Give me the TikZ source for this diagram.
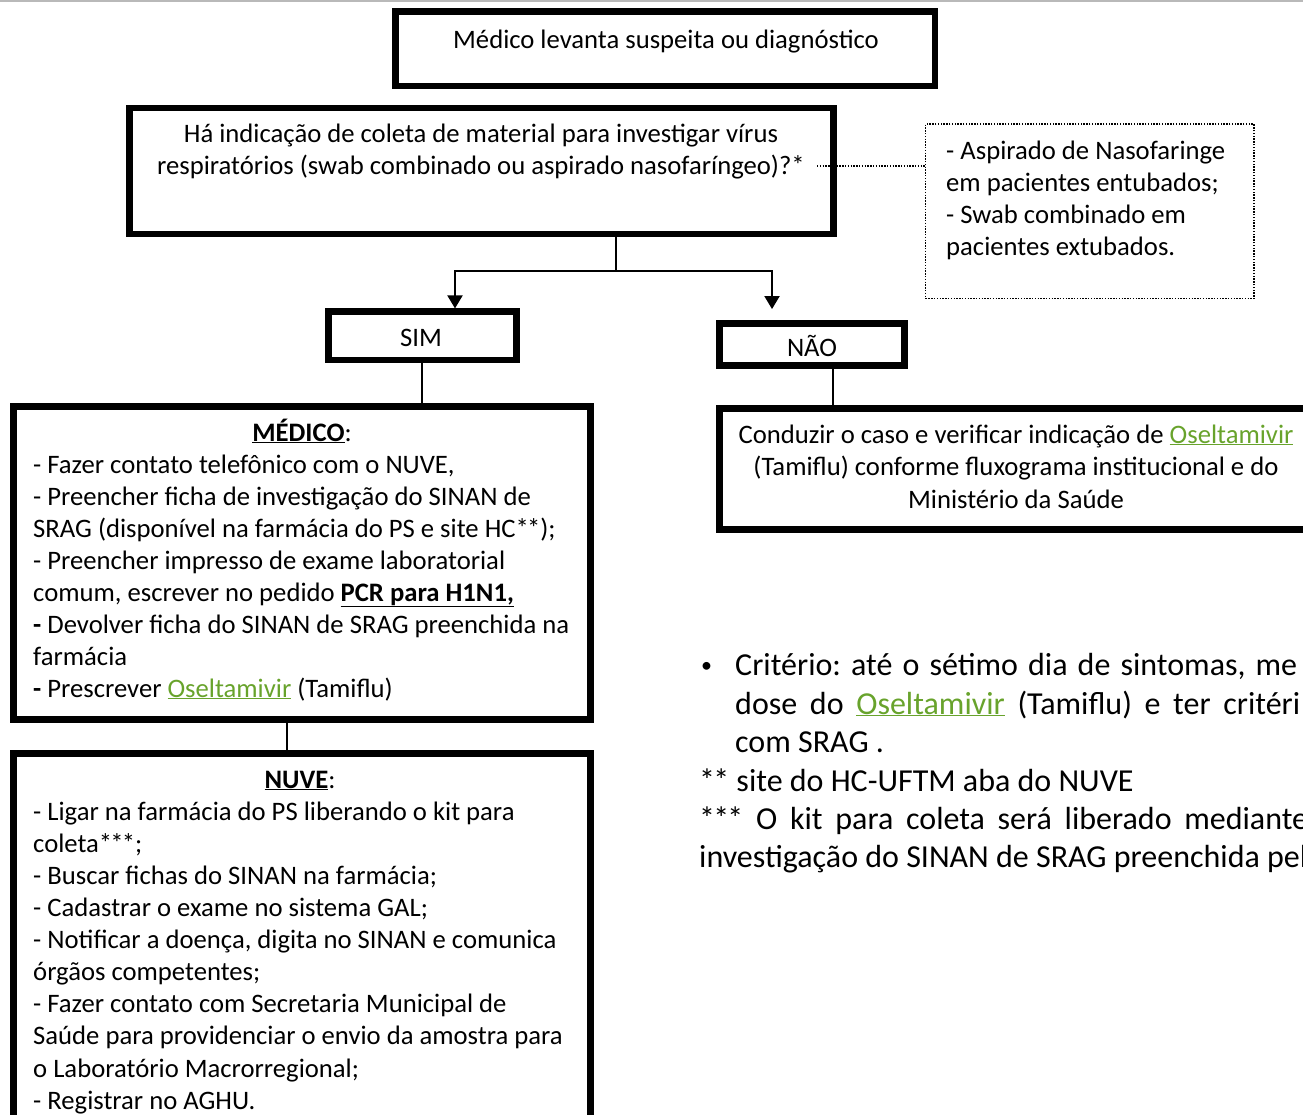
\documentclass[tikz,border=0pt]{standalone}
\usepackage{fontspec}
\setmainfont{Carlito}
\usetikzlibrary{arrows.meta}
\definecolor{linkgreen}{RGB}{104,163,44}
\newcommand{\osel}{\textcolor{linkgreen}{\underline{Oseltamivir}}}
\newcommand{\twoast}{*\kern-1.8pt*}
\newcommand{\threeast}{*\kern-1.8pt*\kern-1.8pt*}
\frenchspacing
\begin{document}
\begin{tikzpicture}[x=1pt,y=-1pt,
  box/.style={draw, line width=6.5pt, inner sep=0pt},
  dotbox/.style={draw, line width=1.8pt, dash pattern=on 1.4pt off 1.4pt, inner sep=0pt},
  conn/.style={line width=2pt},
  arrowline/.style={conn, -{Triangle[width=15pt,length=13pt]}},
  dotline/.style={line width=1.8pt, dash pattern=on 1.4pt off 1.4pt},
  txt/.style={inner sep=0pt, font=\fontsize{26.67}{32}\selectfont},
  big/.style={inner sep=0pt, font=\fontsize{32}{38.4}\selectfont},
]
\useasboundingbox (0,0) rectangle (1303,1114);
\begin{scope}
\clip (0,0) rectangle (1303,1114);
\fill[gray!55] (0,0) rectangle (1303,2);

% boxes
\node[box, minimum width=539.3pt, minimum height=74.3pt] (top) at (665.3,48.8) {};
\node[box, minimum width=704pt, minimum height=126pt] (q) at (481.3,171) {};
\node[dotbox, minimum width=328.5pt, minimum height=174.2pt] (aside) at (1089.8,211.4) {};
\node[box, minimum width=188pt, minimum height=48.3pt] (sim) at (422.3,335.8) {};
\node[box, minimum width=185.4pt, minimum height=42.4pt] (nao) at (812,344.5) {};
\node[box, minimum width=593.4pt, minimum height=121.4pt] (cond) at (1016,469) {};
\node[box, minimum width=577.4pt, minimum height=313.4pt] (med) at (302,563) {};
\node[box, minimum width=577.4pt, minimum height=380pt] (nuve) at (302,943.3) {};

% texts
\node[txt, anchor=base] (ttop) at (666,48) {Médico levanta suspeita ou diagnóstico};
\node[txt, anchor=base] (q1) at (481,142) {Há indicação de coleta de material para investigar vírus};
\node[txt, anchor=base] (q2) at (481,174) {respiratórios (swab combinado ou aspirado nasofaríngeo)?*};

\node[txt, anchor=base west] (a1) at (946,159) {- Aspirado de Nasofaringe};
\node[txt, anchor=base west] (a2) at (946,191) {em pacientes entubados;};
\node[txt, anchor=base west] (a3) at (946,223) {- Swab combinado em};
\node[txt, anchor=base west] (a4) at (946,255) {pacientes extubados.};

\node[txt, anchor=base] (tsim) at (421,346) {SIM};
\node[txt, anchor=base] (tnao) at (812,356) {NÃO};

\node[txt, anchor=base] (c1) at (1016,443) {Conduzir o caso e verificar indicação de \osel};
\node[txt, anchor=base] (c2) at (1016,475) {(Tamiflu) conforme fluxograma institucional e do};
\node[txt, anchor=base] (c3) at (1016,508) {Ministério da Saúde};

\node[txt, anchor=base] (m0) at (302,441) {\underline{\textbf{MÉDICO}}:};
\node[txt, anchor=base west] (m1) at (33,473) {- Fazer contato telefônico com o NUVE,};
\node[txt, anchor=base west] (m2) at (33,505) {- Preencher ficha de investigação do SINAN de};
\node[txt, anchor=base west] (m3) at (33,537) {SRAG (disponível na farmácia do PS e site HC\twoast);};
\node[txt, anchor=base west] (m4) at (33,569) {- Preencher impresso de exame laboratorial};
\node[txt, anchor=base west] (m5) at (33,601) {comum, escrever no pedido \underline{\textbf{PCR para H1N1,}}};
\node[txt, anchor=base west] (m6) at (33,633) {\textbf{-} Devolver ficha do SINAN de SRAG preenchida na};
\node[txt, anchor=base west] (m7) at (33,665) {farmácia};
\node[txt, anchor=base west] (m8) at (33,697) {\textbf{-} Prescrever \osel{} (Tamiflu)};

\node[txt, anchor=base] (n0) at (300,788) {\underline{\textbf{NUVE}}:};
\node[txt, anchor=base west] (n1) at (33,820) {- Ligar na farmácia do PS liberando o kit para};
\node[txt, anchor=base west] (n2) at (33,852) {coleta\threeast;};
\node[txt, anchor=base west] (n3) at (33,884) {- Buscar fichas do SINAN na farmácia;};
\node[txt, anchor=base west] (n4) at (33,916) {- Cadastrar o exame no sistema GAL;};
\node[txt, anchor=base west] (n5) at (33,948) {- Notificar a doença, digita no SINAN e comunica};
\node[txt, anchor=base west] (n6) at (33,980) {órgãos competentes;};
\node[txt, anchor=base west] (n7) at (33,1012) {- Fazer contato com Secretaria Municipal de};
\node[txt, anchor=base west] (n8) at (33,1044) {Saúde para providenciar o envio da amostra para};
\node[txt, anchor=base west] (n9) at (33,1077) {o Laboratório Macrorregional;};
\node[txt, anchor=base west] (n10) at (33,1109) {- Registrar no AGHU.};

% right-hand notes
\node[inner sep=0pt, font=\fontsize{22}{22}\selectfont, anchor=base west] (bul) at (701,672) {•};
\node[big, anchor=base west] (r1) at (735,675) {\makebox[562pt][s]{Critério: até o sétimo dia de sintomas, me}};
\node[big, anchor=base west] (r2) at (735,714) {\makebox[565pt][s]{dose do \osel{} (Tamiflu) e ter critéri}};
\node[big, anchor=base west] (r3) at (735,752) {com SRAG .};
\node[big, anchor=base west] (r4) at (699,791) {\twoast{} site do HC-UFTM aba do NUVE};
\node[big, anchor=base west] (r5) at (699,829) {\makebox[609pt][s]{\threeast{} O kit para coleta será liberado mediante}};
\node[big, anchor=base west] (r6) at (699,867) {investigação do SINAN de SRAG preenchida pel};

% connectors
\coordinate (split) at (616,270.5);
\draw[conn] (split |- q.south) -- (split);
\draw[arrowline] (split) -| ([xshift=32.7pt]sim.north);
\draw[arrowline] (split) -| ([xshift=-40pt,yshift=11pt]nao.north);
\draw[conn] (sim.south) -- (sim.south |- med.north);
\draw[conn] ([xshift=21pt]nao.south) -- ([xshift=21pt]nao.south |- cond.north);
\draw[conn] ([xshift=-15pt]med.south) -- ([xshift=-15pt]med.south |- nuve.north);
\coordinate (dstart) at (817,166);
\draw[dotline] (dstart) -- (dstart -| aside.west);
\end{scope}
\end{tikzpicture}
\end{document}
